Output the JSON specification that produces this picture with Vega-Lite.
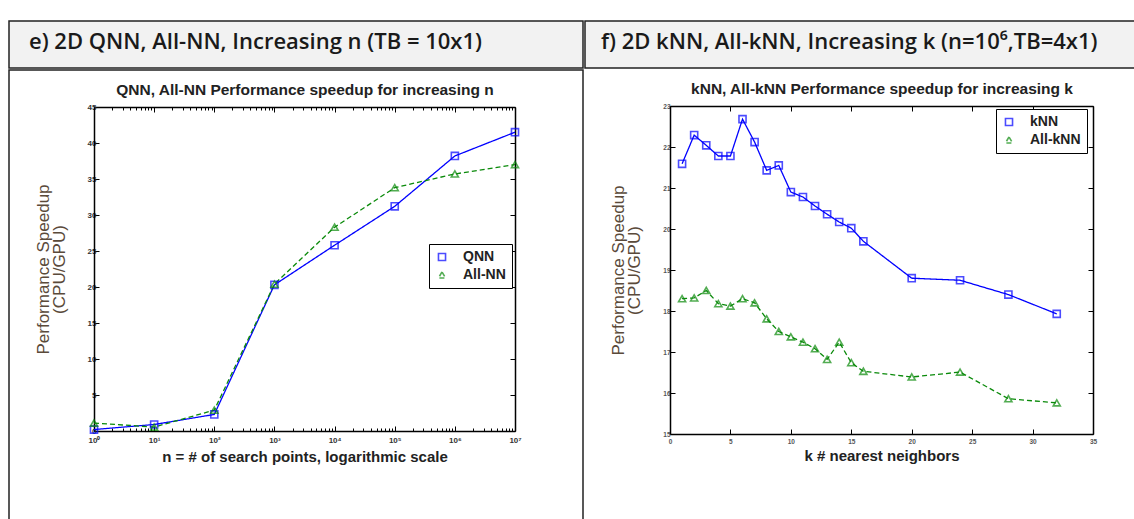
{
  "$schema": "https://vega.github.io/schema/vega-lite/v6.json",
  "padding": {"left": 8, "top": 20, "right": 0, "bottom": 0},
  "background": "white",
  "spacing": 0,
  "config": {"concat": {"spacing": 0}, "view": {"stroke": null}},
  "resolve": {
    "scale": {"color": "independent", "shape": "independent", "strokeDash": "independent"},
    "legend": {"color": "independent", "shape": "independent", "strokeDash": "independent"}
  },
  "datasets": {
    "nn": [
      {"n": 1, "series": "QNN", "speedup": 0.2},
      {"n": 10, "series": "QNN", "speedup": 0.9},
      {"n": 100, "series": "QNN", "speedup": 2.3},
      {"n": 1000, "series": "QNN", "speedup": 20.3},
      {"n": 10000, "series": "QNN", "speedup": 25.8},
      {"n": 100000, "series": "QNN", "speedup": 31.2},
      {"n": 1000000, "series": "QNN", "speedup": 38.2},
      {"n": 10000000, "series": "QNN", "speedup": 41.5},
      {"n": 1, "series": "All-NN", "speedup": 1.1},
      {"n": 10, "series": "All-NN", "speedup": 0.55},
      {"n": 100, "series": "All-NN", "speedup": 2.9},
      {"n": 1000, "series": "All-NN", "speedup": 20.4},
      {"n": 10000, "series": "All-NN", "speedup": 28.3},
      {"n": 100000, "series": "All-NN", "speedup": 33.8},
      {"n": 1000000, "series": "All-NN", "speedup": 35.7},
      {"n": 10000000, "series": "All-NN", "speedup": 37.0}
    ],
    "knn": [
      {"k": 1, "series": "kNN", "speedup": 21.59},
      {"k": 2, "series": "kNN", "speedup": 22.29},
      {"k": 3, "series": "kNN", "speedup": 22.04},
      {"k": 4, "series": "kNN", "speedup": 21.78},
      {"k": 5, "series": "kNN", "speedup": 21.78},
      {"k": 6, "series": "kNN", "speedup": 22.68},
      {"k": 7, "series": "kNN", "speedup": 22.12},
      {"k": 8, "series": "kNN", "speedup": 21.43},
      {"k": 9, "series": "kNN", "speedup": 21.55},
      {"k": 10, "series": "kNN", "speedup": 20.9},
      {"k": 11, "series": "kNN", "speedup": 20.78},
      {"k": 12, "series": "kNN", "speedup": 20.56},
      {"k": 13, "series": "kNN", "speedup": 20.36},
      {"k": 14, "series": "kNN", "speedup": 20.17},
      {"k": 15, "series": "kNN", "speedup": 20.02},
      {"k": 16, "series": "kNN", "speedup": 19.7},
      {"k": 20, "series": "kNN", "speedup": 18.8},
      {"k": 24, "series": "kNN", "speedup": 18.75},
      {"k": 28, "series": "kNN", "speedup": 18.4},
      {"k": 32, "series": "kNN", "speedup": 17.93},
      {"k": 1, "series": "All-kNN", "speedup": 18.3},
      {"k": 2, "series": "All-kNN", "speedup": 18.32},
      {"k": 3, "series": "All-kNN", "speedup": 18.5},
      {"k": 4, "series": "All-kNN", "speedup": 18.18},
      {"k": 5, "series": "All-kNN", "speedup": 18.12},
      {"k": 6, "series": "All-kNN", "speedup": 18.3},
      {"k": 7, "series": "All-kNN", "speedup": 18.2},
      {"k": 8, "series": "All-kNN", "speedup": 17.81},
      {"k": 9, "series": "All-kNN", "speedup": 17.5},
      {"k": 10, "series": "All-kNN", "speedup": 17.37},
      {"k": 11, "series": "All-kNN", "speedup": 17.24},
      {"k": 12, "series": "All-kNN", "speedup": 17.08},
      {"k": 13, "series": "All-kNN", "speedup": 16.82},
      {"k": 14, "series": "All-kNN", "speedup": 17.24},
      {"k": 15, "series": "All-kNN", "speedup": 16.74},
      {"k": 16, "series": "All-kNN", "speedup": 16.53},
      {"k": 20, "series": "All-kNN", "speedup": 16.39},
      {"k": 24, "series": "All-kNN", "speedup": 16.51},
      {"k": 28, "series": "All-kNN", "speedup": 15.86},
      {"k": 32, "series": "All-kNN", "speedup": 15.76}
    ]
  },
  "hconcat": [
    {
      "spacing": 0,
      "vconcat": [
        {
          "width": 574,
          "height": 47,
          "view": {"fill": "#f2f2f2", "stroke": "#222", "strokeWidth": 1.5},
          "title": {"text": "e) 2D QNN, All-NN, Increasing n  (TB = 10x1)", "anchor": "start", "frame": "group", "orient": "top", "offset": -33, "dx": 20, "font": "Open Sans", "fontSize": 22, "fontWeight": 600, "color": "#1a1a1a"},
          "data": {"values": [{}]},
          "mark": {"type": "point", "opacity": 0},
          "encoding": {}
        },
        {
          "width": 574,
          "height": 452,
          "view": {"stroke": "#222", "strokeWidth": 1.5},
          "data": {"name": "nn"},
          "layer": [
            {
              "mark": {"type": "line", "strokeWidth": 1.3},
              "encoding": {
                "x": {"field": "n", "type": "quantitative",
                  "scale": {"type": "log", "domain": [1, 10000000], "range": [85, 506], "nice": false},
                  "axis": {"orient": "bottom", "offset": -91,
                    "values": [1,2,3,4,5,6,7,8,9,10,20,30,40,50,60,70,80,90,100,200,300,400,500,600,700,800,900,1000,2000,3000,4000,5000,6000,7000,8000,9000,10000,20000,30000,40000,50000,60000,70000,80000,90000,100000,200000,300000,400000,500000,600000,700000,800000,900000,1000000,2000000,3000000,4000000,5000000,6000000,7000000,8000000,9000000,10000000],
                    "tickSize": {"condition": {"test": "abs(log(datum.value)/LN10 - round(log(datum.value)/LN10)) < 0.000001", "value": -5}, "value": -3},
                    "labelExpr": "abs(log(datum.value)/LN10 - round(log(datum.value)/LN10)) < 0.000001 ? '10' + ['⁰','¹','²','³','⁴','⁵','⁶','⁷'][round(log(datum.value)/LN10)] : ''",
                    "labelFont": "Liberation Sans", "labelFontSize": 8, "labelFontWeight": "bold", "labelColor": "#333", "labelPadding": 10, "labelFlush": false, "labelOverlap": false,
                    "domainColor": "#000", "domainWidth": 1.5, "tickColor": "#000", "tickWidth": 1, "grid": false,
                    "title": "n = # of search points, logarithmic scale", "titleFont": "Liberation Sans", "titleFontSize": 15, "titleFontWeight": "bold", "titleColor": "#222", "titlePadding": 3}
                },
                "y": {"field": "speedup", "type": "quantitative",
                  "scale": {"domain": [0, 45], "range": [361, 37], "nice": false, "zero": false},
                  "axis": {"orient": "left", "offset": -85, "values": [0,5,10,15,20,25,30,35,40,45], "tickSize": -5,
                    "labelFont": "Liberation Sans", "labelFontSize": 8, "labelFontWeight": "bold", "labelColor": "#333", "labelPadding": 3,
                    "domainColor": "#000", "domainWidth": 1.5, "tickColor": "#000", "grid": false,
                    "title": ["Performance Speedup", "(CPU/GPU)"], "titleFont": "Liberation Sans", "titleFontSize": 17, "titleFontWeight": "normal", "titleColor": "#5a4a3a", "titleLineHeight": 16, "titlePadding": 19}
                },
                "color": {"field": "series", "type": "nominal", "scale": {"domain": ["QNN", "All-NN"], "range": ["#0000ff", "#0a8a0a"]},
                  "legend": {"orient": "none", "legendX": 420, "legendY": 223, "title": null, "strokeColor": "#000", "fillColor": "#fff", "padding": 6, "labelFont": "Liberation Sans", "labelFontSize": 14, "labelFontWeight": "bold", "labelColor": "#222", "symbolSize": 50, "symbolStrokeWidth": 1.6, "rowPadding": 4, "labelOffset": 14}},
                "strokeDash": {"field": "series", "type": "nominal", "scale": {"domain": ["QNN", "All-NN"], "range": [[1, 0], [5, 3]]}, "legend": null}
              }
            },
            {
              "mark": {"type": "point", "filled": false, "strokeWidth": 1.6, "size": 50},
              "encoding": {
                "x": {"field": "n", "type": "quantitative", "scale": {"type": "log", "domain": [1, 10000000], "range": [85, 506], "nice": false}, "axis": null},
                "y": {"field": "speedup", "type": "quantitative", "scale": {"domain": [0, 45], "range": [361, 37], "nice": false, "zero": false}, "axis": null},
                "color": {"field": "series", "type": "nominal", "scale": {"domain": ["QNN", "All-NN"], "range": ["#0000ff", "#0a8a0a"]}},
                "shape": {"field": "series", "type": "nominal", "scale": {"domain": ["QNN", "All-NN"], "range": ["square", "triangle-up"]}}
              }
            },
            {
              "mark": {"type": "point", "opacity": 0},
              "encoding": {
                "x": {"field": "n", "type": "quantitative", "scale": {"type": "log", "domain": [1, 10000000], "range": [85, 506], "nice": false},
                  "axis": {"orient": "top", "offset": -37,
                    "values": [1,2,3,4,5,6,7,8,9,10,20,30,40,50,60,70,80,90,100,200,300,400,500,600,700,800,900,1000,2000,3000,4000,5000,6000,7000,8000,9000,10000,20000,30000,40000,50000,60000,70000,80000,90000,100000,200000,300000,400000,500000,600000,700000,800000,900000,1000000,2000000,3000000,4000000,5000000,6000000,7000000,8000000,9000000,10000000],
                    "tickSize": {"condition": {"test": "abs(log(datum.value)/LN10 - round(log(datum.value)/LN10)) < 0.000001", "value": -5}, "value": -3},
                    "labels": false, "domainColor": "#000", "domainWidth": 1.5, "tickColor": "#000", "grid": false,
                    "title": "QNN, All-NN Performance speedup for increasing n", "titleFont": "Liberation Sans", "titleFontSize": 15.5, "titleFontWeight": "bold", "titleColor": "#222", "titlePadding": 9}
                },
                "y": {"field": "speedup", "type": "quantitative", "scale": {"domain": [0, 45], "range": [361, 37], "nice": false, "zero": false},
                  "axis": {"orient": "right", "offset": -68, "values": [0,5,10,15,20,25,30,35,40,45], "tickSize": -5, "labels": false, "title": null,
                    "domainColor": "#000", "domainWidth": 1.5, "tickColor": "#000", "grid": false}
                }
              }
            }
          ],
          "resolve": {"axis": {"x": "independent", "y": "independent"}}
        }
      ]
    },
    {
      "spacing": 0,
      "vconcat": [
        {
          "width": 552,
          "height": 47,
          "view": {"fill": "#f2f2f2", "stroke": "#222", "strokeWidth": 1.5},
          "title": {"text": "f) 2D kNN, All-kNN, Increasing k  (n=10⁶,TB=4x1)", "anchor": "start", "frame": "group", "orient": "top", "offset": -33, "dx": 16, "font": "Open Sans", "fontSize": 22, "fontWeight": 600, "color": "#1a1a1a"},
          "data": {"values": [{}]},
          "mark": {"type": "point", "opacity": 0},
          "encoding": {}
        },
        {
          "width": 552,
          "height": 452,
          "view": {"stroke": null},
          "data": {"name": "knn"},
          "layer": [
            {
              "mark": {"type": "line", "strokeWidth": 1.3},
              "encoding": {
                "x": {"field": "k", "type": "quantitative",
                  "scale": {"domain": [0, 35], "range": [85, 508], "nice": false, "zero": false},
                  "axis": {"orient": "bottom", "offset": -87, "values": [0,5,10,15,20,25,30,35], "tickSize": -5,
                    "labelFont": "Liberation Sans", "labelFontSize": 6.5, "labelFontWeight": "bold", "labelColor": "#555", "labelPadding": 9, "labelFlush": false,
                    "domainColor": "#000", "domainWidth": 1.5, "tickColor": "#000", "grid": false,
                    "title": "k # nearest neighbors", "titleFont": "Liberation Sans", "titleFontSize": 15, "titleFontWeight": "bold", "titleColor": "#222", "titlePadding": 4}
                },
                "y": {"field": "speedup", "type": "quantitative",
                  "scale": {"domain": [15, 23], "range": [365, 37], "nice": false, "zero": false},
                  "axis": {"orient": "left", "offset": -85, "values": [15,16,17,18,19,20,21,22,23], "tickSize": -5,
                    "labelFont": "Liberation Sans", "labelFontSize": 6.5, "labelFontWeight": "bold", "labelColor": "#555", "labelPadding": 5,
                    "domainColor": "#000", "domainWidth": 1.5, "tickColor": "#000", "grid": false,
                    "title": ["Performance Speedup", "(CPU/GPU)"], "titleFont": "Liberation Sans", "titleFontSize": 17, "titleFontWeight": "normal", "titleColor": "#5a4a3a", "titleLineHeight": 16, "titlePadding": 19}
                },
                "color": {"field": "series", "type": "nominal", "scale": {"domain": ["kNN", "All-kNN"], "range": ["#0000ff", "#0a8a0a"]},
                  "legend": {"orient": "none", "legendX": 411, "legendY": 88, "title": null, "strokeColor": "#000", "fillColor": "#fff", "padding": 6, "labelFont": "Liberation Sans", "labelFontSize": 14, "labelFontWeight": "bold", "labelColor": "#222", "symbolSize": 50, "symbolStrokeWidth": 1.6, "rowPadding": 4, "labelOffset": 14}},
                "strokeDash": {"field": "series", "type": "nominal", "scale": {"domain": ["kNN", "All-kNN"], "range": [[1, 0], [5, 3]]}, "legend": null}
              }
            },
            {
              "mark": {"type": "point", "filled": false, "strokeWidth": 1.6, "size": 50},
              "encoding": {
                "x": {"field": "k", "type": "quantitative", "scale": {"domain": [0, 35], "range": [85, 508], "nice": false, "zero": false}, "axis": null},
                "y": {"field": "speedup", "type": "quantitative", "scale": {"domain": [15, 23], "range": [365, 37], "nice": false, "zero": false}, "axis": null},
                "color": {"field": "series", "type": "nominal", "scale": {"domain": ["kNN", "All-kNN"], "range": ["#0000ff", "#0a8a0a"]}},
                "shape": {"field": "series", "type": "nominal", "scale": {"domain": ["kNN", "All-kNN"], "range": ["square", "triangle-up"]}}
              }
            },
            {
              "mark": {"type": "point", "opacity": 0},
              "encoding": {
                "x": {"field": "k", "type": "quantitative", "scale": {"domain": [0, 35], "range": [85, 508], "nice": false, "zero": false},
                  "axis": {"orient": "top", "offset": -37, "values": [0,5,10,15,20,25,30,35], "tickSize": -5, "labels": false,
                    "domainColor": "#000", "domainWidth": 1.5, "tickColor": "#000", "grid": false,
                    "title": "kNN, All-kNN Performance speedup for increasing k", "titleFont": "Liberation Sans", "titleFontSize": 15.5, "titleFontWeight": "bold", "titleColor": "#222", "titlePadding": 9}
                },
                "y": {"field": "speedup", "type": "quantitative", "scale": {"domain": [15, 23], "range": [365, 37], "nice": false, "zero": false},
                  "axis": {"orient": "right", "offset": -44, "values": [15,16,17,18,19,20,21,22,23], "tickSize": -5, "labels": false, "title": null,
                    "domainColor": "#000", "domainWidth": 1.5, "tickColor": "#000", "grid": false}
                }
              }
            }
          ],
          "resolve": {"axis": {"x": "independent", "y": "independent"}}
        }
      ]
    }
  ]
}
